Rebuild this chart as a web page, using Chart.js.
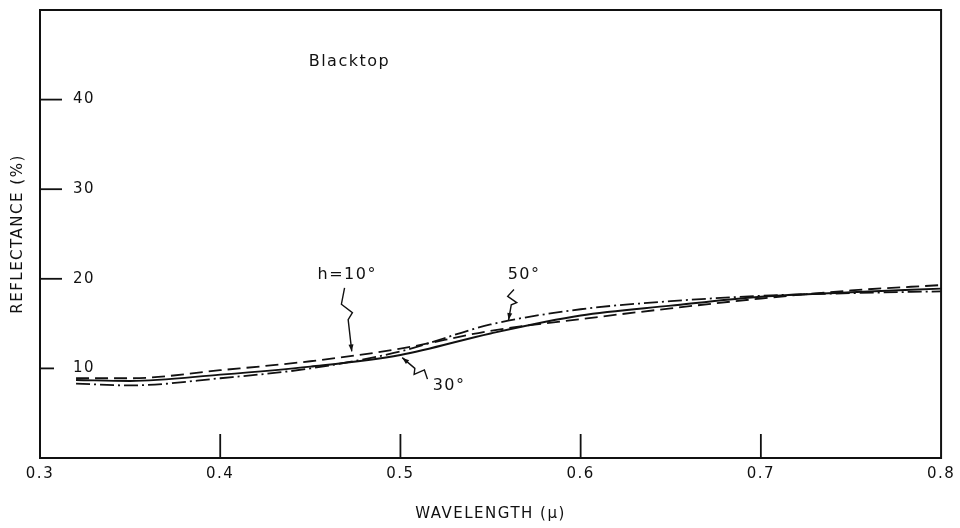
<!DOCTYPE html>
<html>
<head>
<meta charset="utf-8">
<title>Blacktop reflectance</title>
<script src="https://cdn.jsdelivr.net/npm/chart.js@4/dist/chart.umd.min.js"></script>
<style>
    html, body { margin: 0; padding: 0; background: #fff; }
    #wrap { width: 960px; height: 528px; }
</style>
</head>
<body>
<div id="wrap"><canvas id="reflChart" width="960" height="528"></canvas></div>
<script>
// ================================================
// DONNÉES
// ================================================

const wavelength = [0.32, 0.35, 0.40, 0.45, 0.50, 0.55, 0.60, 0.65, 0.70, 0.75, 0.80];
const refl10 = [8.9, 8.9, 9.8, 10.8, 12.2, 14.2, 15.5, 16.7, 17.8, 18.7, 19.3];
const refl30 = [8.7, 8.6, 9.3, 10.2, 11.5, 13.9, 15.9, 17.0, 18.0, 18.5, 18.9];
const refl50 = [8.3, 8.1, 8.9, 10.0, 11.9, 14.9, 16.6, 17.5, 18.1, 18.4, 18.6];

const yTicks = [10, 20, 30, 40];
const xTicks = [0.3, 0.4, 0.5, 0.6, 0.7, 0.8];

// curve labels: text, label position, leader from -> to (data units)
const curveNotes = [
    { text: 'h=10°', x: 0.4705, y: 20.4, from: [0.469, 19.0], to: [0.473, 11.9] },
    { text: '30°',   x: 0.527,  y: 8.1,  from: [0.515, 8.8],  to: [0.501, 11.2] },
    { text: '50°',   x: 0.5686, y: 20.4, from: [0.563, 18.8], to: [0.560, 15.4] }
];

const INK = '#111';

// ================================================
// PLUGINS
// ================================================

const spacingPlugin = {
    id: 'spacing',
    beforeDraw(chart) { chart.ctx.letterSpacing = '1.5px'; },
    afterDraw(chart) { chart.ctx.letterSpacing = '0px'; }
};

const framePlugin = {
    id: 'frame',
    afterDatasetsDraw(chart) {
        const { ctx, chartArea: a, scales } = chart;
        ctx.save();
        ctx.strokeStyle = INK;
        ctx.lineWidth = 2;
        ctx.strokeRect(a.left, a.top, a.right - a.left, a.bottom - a.top);

        // inner tick marks
        ctx.lineWidth = 1.8;
        yTicks.forEach(v => {
            const y = scales.y.getPixelForValue(v);
            const len = v === 10 ? 14 : 22;
            ctx.beginPath();
            ctx.moveTo(a.left, y);
            ctx.lineTo(a.left + len, y);
            ctx.stroke();
        });
        xTicks.slice(1, -1).forEach(v => {
            const x = scales.x.getPixelForValue(v);
            ctx.beginPath();
            ctx.moveTo(x, a.bottom);
            ctx.lineTo(x, a.bottom - 24);
            ctx.stroke();
        });

        // title inside plot
        ctx.fillStyle = INK;
        ctx.font = '16px "DejaVu Sans"';
        ctx.textAlign = 'center';
        ctx.textBaseline = 'middle';
        ctx.fillText('Blacktop', scales.x.getPixelForValue(0.4717), scales.y.getPixelForValue(44.2));

        // curve labels with squiggly leaders
        curveNotes.forEach(n => {
            ctx.fillText(n.text, scales.x.getPixelForValue(n.x), scales.y.getPixelForValue(n.y));
            const x0 = scales.x.getPixelForValue(n.from[0]);
            const y0 = scales.y.getPixelForValue(n.from[1]);
            const x1 = scales.x.getPixelForValue(n.to[0]);
            const y1 = scales.y.getPixelForValue(n.to[1]);
            drawSquiggle(ctx, x0, y0, x1, y1);
        });
        ctx.restore();
    }
};

function drawSquiggle(ctx, x0, y0, x1, y1) {
    const dx = x1 - x0, dy = y1 - y0;
    const len = Math.hypot(dx, dy);
    const ux = dx / len, uy = dy / len;
    const nx = -uy, ny = ux;
    ctx.lineWidth = 1.4;
    ctx.beginPath();
    ctx.moveTo(x0, y0);
    // small zigzag in the first half
    const p = t => [x0 + dx * t, y0 + dy * t];
    let [ax, ay] = p(0.25);
    ctx.lineTo(ax + nx * 5, ay + ny * 5);
    [ax, ay] = p(0.4);
    ctx.lineTo(ax - nx * 5, ay - ny * 5);
    [ax, ay] = p(0.5);
    ctx.lineTo(ax, ay);
    ctx.lineTo(x1, y1);
    ctx.stroke();
    // arrow head
    ctx.beginPath();
    ctx.moveTo(x1, y1);
    ctx.lineTo(x1 - ux * 7 + nx * 2.5, y1 - uy * 7 + ny * 2.5);
    ctx.lineTo(x1 - ux * 7 - nx * 2.5, y1 - uy * 7 - ny * 2.5);
    ctx.closePath();
    ctx.fill();
}

// ================================================
// GRAPHIQUE
// ================================================

function toPoints(ys) {
    return wavelength.map((x, i) => ({ x: x, y: ys[i] }));
}

function curve(label, ys, dash, width) {
    return {
        label: label,
        data: toPoints(ys),
        borderColor: INK,
        borderWidth: width,
        borderDash: dash,
        pointRadius: 0,
        cubicInterpolationMode: 'monotone',
        fill: false
    };
}

function initReflChart() {
    const ctx = document.getElementById('reflChart');
    Chart.defaults.font.family = '"DejaVu Sans", sans-serif';
    Chart.defaults.color = INK;

    new Chart(ctx, {
        type: 'line',
        data: {
            datasets: [
                curve('h=10°', refl10, [13, 6], 1.8),
                curve('30°', refl30, [], 1.9),
                curve('50°', refl50, [14, 4, 2, 4], 1.8)
            ]
        },
        options: {
            responsive: false,
            animation: false,
            layout: { padding: { left: 6, right: 17, top: 10, bottom: 0 } },
            plugins: {
                legend: { display: false },
                tooltip: { enabled: false }
            },
            scales: {
                x: {
                    type: 'linear',
                    min: 0.3,
                    max: 0.8,
                    afterBuildTicks: scale => { scale.ticks = xTicks.map(v => ({ value: v })); },
                    afterFit: scale => { scale.height = 70; },
                    grid: { display: false, drawTicks: false },
                    border: { display: false },
                    ticks: {
                        padding: 7,
                        maxRotation: 0,
                        font: { size: 15 },
                        callback: v => v.toFixed(1)
                    },
                    title: {
                        display: true,
                        text: 'WAVELENGTH (μ)',
                        font: { size: 15 },
                        padding: { top: 0, bottom: 5 }
                    }
                },
                y: {
                    min: 0,
                    max: 50,
                    afterBuildTicks: scale => { scale.ticks = yTicks.map(v => ({ value: v })); },
                    afterFit: scale => {
                        scale.width = 34;
                        scale.paddingTop = 0;
                        scale.paddingBottom = 0;
                    },
                    grid: { display: false, drawTicks: false },
                    border: { display: false },
                    ticks: {
                        mirror: true,
                        padding: 33,
                        font: { size: 15 }
                    },
                    title: {
                        display: true,
                        text: 'REFLECTANCE (%)',
                        font: { size: 15 },
                        padding: { top: 3, bottom: 3 }
                    }
                }
            }
        },
        plugins: [spacingPlugin, framePlugin]
    });
}

document.addEventListener('DOMContentLoaded', initReflChart);
</script>
</body>
</html>
